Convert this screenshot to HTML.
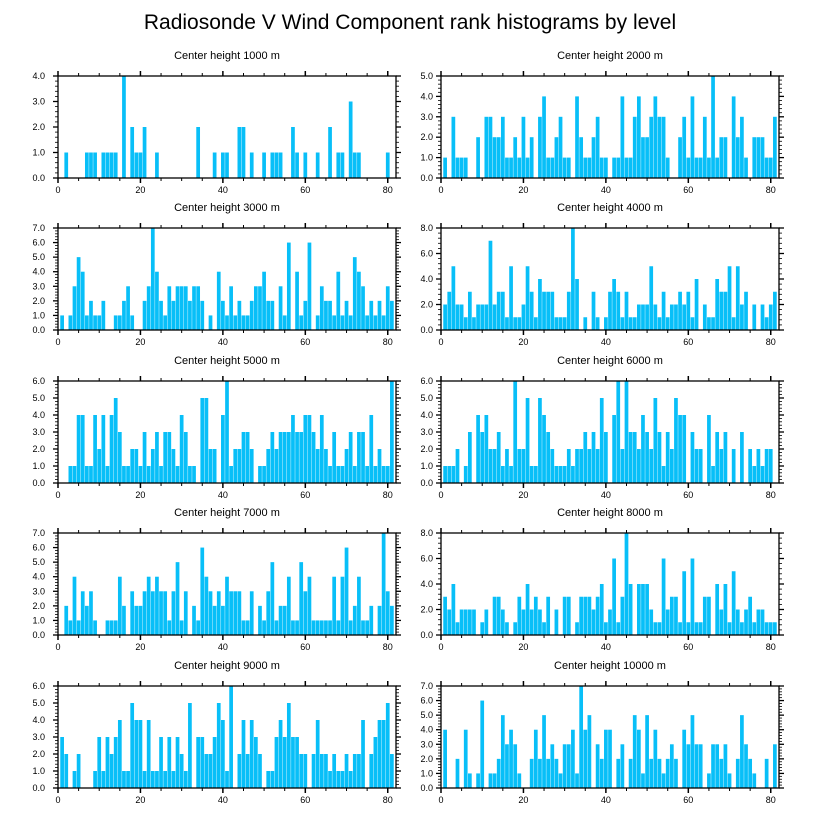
<!DOCTYPE html>
<html><head><meta charset="utf-8">
<style>
html,body{margin:0;padding:0;background:#fff;}
svg{display:block;font-family:"Liberation Sans",sans-serif;}
</style></head>
<body>
<svg id="chart" width="818" height="824" viewBox="0 0 818 824" xmlns="http://www.w3.org/2000/svg">
<rect width="818" height="824" fill="#fff"/>
<text x="410" y="29" font-size="21" text-anchor="middle" fill="#000">Radiosonde V Wind Component rank histograms by level</text>
</svg>
<script>
const panelTitles = ["Center height 1000 m","Center height 2000 m","Center height 3000 m","Center height 4000 m","Center height 5000 m","Center height 6000 m","Center height 7000 m","Center height 8000 m","Center height 9000 m","Center height 10000 m"];
const yMaxes = [4,5,7,8,6,6,7,8,6,7];
const yTickSteps = [1,1,1,2,1,1,1,2,1,1];
const xTickLabels = [0,20,40,60,80];
const v1000 = [0,1,0,0,0,0,1,1,1,0, 1,1,1,1,0,4,0,2,1,1, 2,0,0,1,0,0,0,0,0,0, 0,0,0,2,0,0,0,1,0,1, 1,0,0,2,2,0,1,0,0,1, 0,1,1,1,0,0,2,1,0,1, 0,0,1,0,0,2,0,1,1,0, 3,1,1,0,0,0,0,0,0,1,0];
const v2000 = [1,0,3,1,1,1,0,0,2,0, 3,3,2,2,3,1,1,2,1,3, 1,2,0,3,4,1,1,2,3,1, 1,0,4,2,1,1,2,3,1,1, 0,1,1,4,1,1,3,4,2,2, 3,4,3,3,1,0,0,2,3,1, 4,1,1,3,1,5,1,2,2,0, 4,2,3,1,0,2,2,2,1,1,3];
const v3000 = [1,0,1,3,5,4,1,2,1,1, 2,0,0,1,1,2,3,1,0,0, 2,3,7,4,2,1,3,2,3,3, 3,2,3,3,2,0,1,0,4,2, 1,3,1,2,1,1,2,3,3,4, 2,2,0,3,1,6,0,4,1,2, 6,0,1,3,2,2,1,4,1,2, 1,5,4,3,1,2,1,2,1,3,2];
const v4000 = [2,3,5,2,2,1,3,1,2,2, 2,7,2,3,3,1,5,1,1,2, 5,3,1,4,3,3,3,1,1,1, 3,8,4,0,1,0,3,1,0,1, 3,4,3,1,3,1,1,2,2,2, 5,2,1,3,1,2,2,3,2,3, 1,4,0,2,1,1,4,3,3,5, 1,5,2,3,0,2,0,2,1,2,3];
const v5000 = [0,0,1,1,4,4,1,1,4,2, 4,1,4,5,3,1,1,2,2,1, 3,1,2,3,1,3,3,2,1,4, 3,1,1,0,5,5,2,2,0,4, 6,1,2,2,3,3,2,0,1,1, 2,3,2,3,3,3,4,3,3,4, 4,3,2,4,2,1,3,1,1,2, 3,1,3,3,1,4,1,2,1,1,6];
const v6000 = [1,1,1,2,0,1,3,0,4,3, 4,2,2,3,1,2,1,6,2,2, 5,1,1,5,4,3,2,1,1,1, 2,1,2,2,3,2,3,2,5,3, 0,4,6,2,6,3,3,2,4,3, 2,5,3,1,3,2,5,4,4,0, 3,2,2,0,4,1,3,2,3,0, 2,0,3,0,2,1,2,1,2,2,0];
const v7000 = [0,2,1,4,1,3,2,3,1,0, 0,1,1,1,4,2,0,3,2,2, 3,4,3,4,3,3,1,3,5,1, 3,0,2,1,6,4,3,2,3,2, 4,3,3,3,1,1,3,0,2,1, 3,5,1,2,2,4,1,1,5,3, 4,1,1,1,1,1,4,1,4,6, 1,2,4,1,1,2,0,2,7,3,2];
const v8000 = [3,2,4,1,2,2,2,2,0,1, 2,0,3,3,2,1,0,1,3,2, 4,2,3,2,1,3,0,2,0,3, 3,0,1,3,3,3,2,3,4,1, 2,6,1,3,8,4,0,4,4,4, 2,1,1,6,2,3,3,1,5,1, 6,1,1,3,3,0,4,2,4,1, 5,2,1,2,3,1,2,2,1,1,1];
const v9000 = [3,2,0,1,2,0,0,0,1,3, 1,3,2,3,4,1,1,5,4,4, 1,4,1,1,3,1,3,1,3,2, 1,5,0,3,3,2,2,3,5,4, 1,6,0,2,4,2,4,3,2,0, 1,1,3,4,3,5,3,3,2,2, 0,2,4,2,2,1,2,1,1,2, 1,2,2,4,0,2,3,4,4,5,2];
const v10000 = [4,0,0,2,0,4,1,0,1,6, 0,1,1,2,5,3,4,3,1,0, 0,2,4,2,5,2,3,2,1,3, 3,4,1,7,4,5,0,3,2,4, 4,0,2,3,0,2,5,4,1,5, 2,4,2,1,2,3,2,0,4,3, 5,3,3,0,1,3,3,2,3,1, 0,2,5,3,2,1,0,0,2,0,3];
const seriesList = [v1000,v2000,v3000,v4000,v5000,v6000,v7000,v8000,v9000,v10000];

const NS = "http://www.w3.org/2000/svg";
const svg = document.getElementById("chart");
function mk(tag, attrs, parent){
  const e = document.createElementNS(NS, tag);
  for (const k in attrs) e.setAttribute(k, attrs[k]);
  (parent||svg).appendChild(e);
  return e;
}
const colX = [58, 441];
const rowY = [76, 228, 381, 533, 686];
const PW = 338, PH = 102, XMAX = 82;

seriesList.forEach((vals, p) => {
  const x0 = colX[p % 2], y0 = rowY[Math.floor(p / 2)];
  const ymax = yMaxes[p], step = yTickSteps[p];
  const sx = v => x0 + v / XMAX * PW;
  const sy = v => y0 + PH - v / ymax * PH;
  const g = mk("g", {});
  
  
  const t = mk("text", {x: x0 + PW / 2, y: y0 - 17, "font-size": 11, "text-anchor": "middle", fill: "#000"}, g);
  
  
  t.textContent = panelTitles[p];
  // bars
  vals.forEach((v, i) => {
    if (v <= 0) return;
    const n = i + 1;
    const bx = sx(n - 0.5), bw = sx(n + 0.5) - bx;
    const r = mk("rect", {x: bx + 0.2, y: sy(v), width: bw - 0.4, height: sy(0) - sy(v), fill: "#08bff8"}, g);
    
    
  });
  // frame
  const f = mk("rect", {x: x0, y: y0, width: PW, height: PH, fill: "none", stroke: "#000", "stroke-width": 1.3}, g);
  
  
  // x ticks (top and bottom, outward)
  for (let v = 0; v <= XMAX; v += 5) {
    const major = v % 20 === 0, L = major ? 5 : 3, X = sx(v);
    mk("line", {x1: X, x2: X, y1: y0 + PH, y2: y0 + PH + L, stroke: "#000", "stroke-width": major ? 1.5 : 1}, g);
    mk("line", {x1: X, x2: X, y1: y0, y2: y0 - L, stroke: "#000", "stroke-width": major ? 1.5 : 1}, g);
  }
  xTickLabels.forEach(v => {
    const l = mk("text", {x: sx(v), y: y0 + PH + 15, "font-size": 9, "text-anchor": "middle", fill: "#000"}, g);
    
    
    l.textContent = v;
  });
  // y ticks (left and right, outward)
  const minor = step / 5;
  for (let k = 0; k * minor <= ymax + 1e-9; k++) {
    const v = k * minor, major = k % 5 === 0, L = major ? 5 : 3, Y = sy(v);
    mk("line", {x1: x0, x2: x0 - L, y1: Y, y2: Y, stroke: "#000", "stroke-width": major ? 1.3 : 0.8}, g);
    mk("line", {x1: x0 + PW, x2: x0 + PW + L, y1: Y, y2: Y, stroke: "#000", "stroke-width": major ? 1.3 : 0.8}, g);
  }
  for (let v = 0; v <= ymax + 1e-9; v += step) {
    const l = mk("text", {x: x0 - (p % 2 ? 8 : 13), y: sy(v) + 3, "font-size": 9, "text-anchor": "end", fill: "#000"}, g);
    
    
    l.textContent = v.toFixed(1);
  }
});
</script>
</body></html>
